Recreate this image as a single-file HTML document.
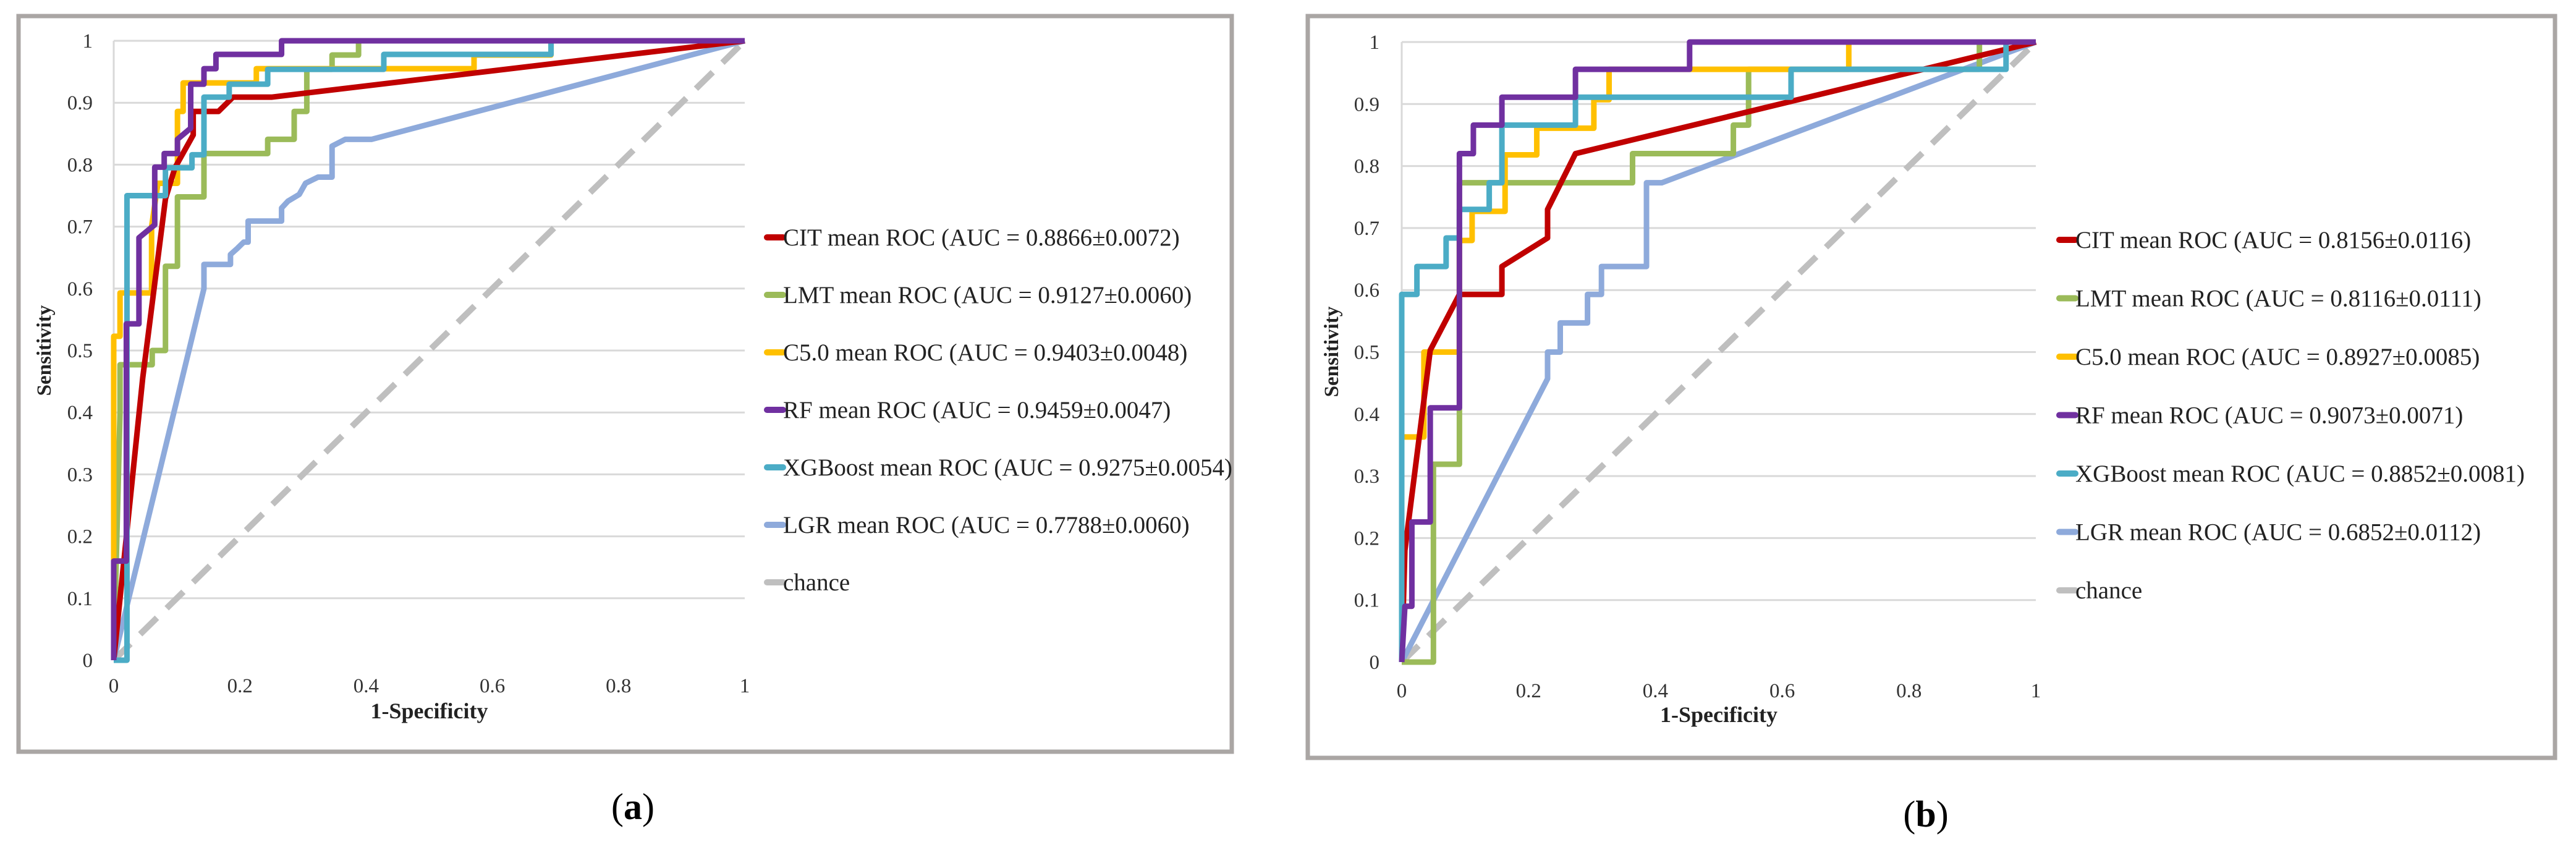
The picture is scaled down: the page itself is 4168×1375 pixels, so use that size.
<!DOCTYPE html>
<html><head><meta charset="utf-8"><style>
html,body{margin:0;padding:0;background:#fff;}
svg{display:block;font-family:"Liberation Serif",serif;}
</style></head><body>
<svg id="fig" width="4168" height="1375" viewBox="0 0 4168 1375" xmlns="http://www.w3.org/2000/svg">
<rect x="0" y="0" width="4168" height="1375" fill="#fff"/>
<rect x="30" y="26" width="1963" height="1190" fill="none" stroke="#aaa6a4" stroke-width="7"/>
<rect x="2116" y="26" width="2018" height="1200" fill="none" stroke="#aaa6a4" stroke-width="7"/>
<text x="1024" y="1325" font-size="60" text-anchor="middle">(<tspan font-weight="bold">a</tspan>)</text>
<text x="3116" y="1337" font-size="60" text-anchor="middle">(<tspan font-weight="bold">b</tspan>)</text>
<g id="pa"></g>
<g id="pb"></g>
</svg>
<script>
const seriesNames = ["CIT","LMT","C5.0","RF","XGBoost","LGR"];
const seriesColors = ["#c00000","#9bbb59","#ffc000","#7030a0","#4bacc6","#8eaadb"];
const yTicks = ["0","0.1","0.2","0.3","0.4","0.5","0.6","0.7","0.8","0.9","1"];
const xTicks = ["0","0.2","0.4","0.6","0.8","1"];
const aucA = ["0.8866±0.0072","0.9127±0.0060","0.9403±0.0048","0.9459±0.0047","0.9275±0.0054","0.7788±0.0060"];
const aucB = ["0.8156±0.0116","0.8116±0.0111","0.8927±0.0085","0.9073±0.0071","0.8852±0.0081","0.6852±0.0112"];

// Panel (a) series: [fpr, tpr] points
const aCIT = [[0,0],[0.01,0.1],[0.046,0.456],[0.082,0.745],[0.097,0.795],[0.126,0.848],[0.126,0.886],[0.166,0.886],[0.189,0.909],[0.25,0.909],[1,1]];
const aLMT = [[0,0],[0.01,0.4],[0.01,0.477],[0.061,0.477],[0.061,0.5],[0.082,0.5],[0.082,0.636],[0.101,0.636],[0.101,0.748],[0.143,0.748],[0.143,0.818],[0.244,0.818],[0.244,0.841],[0.286,0.841],[0.286,0.886],[0.306,0.886],[0.306,0.954],[0.346,0.954],[0.346,0.977],[0.388,0.977],[0.388,1],[1,1]];
const aC50 = [[0,0],[0,0.523],[0.01,0.523],[0.01,0.593],[0.06,0.593],[0.06,0.70],[0.07,0.77],[0.101,0.77],[0.101,0.886],[0.11,0.886],[0.11,0.932],[0.18,0.932],[0.226,0.932],[0.226,0.955],[0.571,0.955],[0.571,0.977],[0.693,0.977],[0.693,1],[1,1]];
const aRF = [[0,0],[0,0.16],[0.02,0.16],[0.02,0.543],[0.04,0.543],[0.04,0.682],[0.065,0.703],[0.065,0.796],[0.08,0.796],[0.08,0.818],[0.101,0.818],[0.101,0.841],[0.122,0.859],[0.122,0.93],[0.143,0.93],[0.143,0.955],[0.162,0.955],[0.162,0.978],[0.266,0.978],[0.266,1],[1,1]];
const aXGB = [[0,0],[0.021,0],[0.021,0.75],[0.082,0.75],[0.082,0.795],[0.124,0.795],[0.124,0.816],[0.143,0.816],[0.143,0.909],[0.183,0.909],[0.183,0.93],[0.244,0.93],[0.244,0.954],[0.428,0.954],[0.428,0.978],[0.693,0.978],[0.693,1],[1,1]];
const aLGR = [[0,0],[0.143,0.6],[0.143,0.639],[0.185,0.639],[0.185,0.655],[0.195,0.664],[0.206,0.675],[0.213,0.675],[0.213,0.709],[0.266,0.709],[0.266,0.73],[0.276,0.741],[0.294,0.752],[0.304,0.77],[0.324,0.78],[0.346,0.78],[0.346,0.83],[0.367,0.841],[0.409,0.841],[1,1]];

// Panel (b) series
const bCIT = [[0,0],[0.005,0.18],[0.045,0.503],[0.091,0.593],[0.158,0.593],[0.158,0.638],[0.23,0.684],[0.23,0.73],[0.274,0.82],[1,1]];
const bLMT = [[0,0],[0.05,0],[0.05,0.319],[0.091,0.319],[0.091,0.41],[0.091,0.773],[0.113,0.773],[0.364,0.773],[0.364,0.82],[0.523,0.82],[0.523,0.866],[0.547,0.866],[0.547,0.956],[0.911,0.956],[0.911,1],[1,1]];
const bC50 = [[0,0],[0,0.363],[0.035,0.363],[0.035,0.5],[0.091,0.5],[0.091,0.68],[0.111,0.68],[0.111,0.727],[0.163,0.727],[0.163,0.818],[0.213,0.818],[0.213,0.861],[0.303,0.861],[0.303,0.907],[0.327,0.907],[0.327,0.956],[0.705,0.956],[0.705,1],[1,1]];
const bRF = [[0,0],[0.005,0.09],[0.016,0.09],[0.016,0.226],[0.045,0.226],[0.045,0.41],[0.091,0.41],[0.091,0.82],[0.113,0.82],[0.113,0.866],[0.158,0.866],[0.158,0.911],[0.274,0.911],[0.274,0.956],[0.454,0.956],[0.454,1],[1,1]];
const bXGB = [[0,0],[0,0.593],[0.024,0.593],[0.024,0.638],[0.07,0.638],[0.07,0.684],[0.091,0.684],[0.091,0.73],[0.138,0.73],[0.138,0.773],[0.158,0.773],[0.158,0.866],[0.274,0.866],[0.274,0.911],[0.614,0.911],[0.614,0.956],[0.953,0.956],[0.953,1],[1,1]];
const bLGR = [[0,0],[0.23,0.457],[0.23,0.5],[0.25,0.5],[0.25,0.547],[0.293,0.547],[0.293,0.593],[0.315,0.593],[0.315,0.638],[0.386,0.638],[0.386,0.773],[0.41,0.773],[1,1]];

const chance = [[0,0],[1,1]];

const NS = "http://www.w3.org/2000/svg";
function mk(parent, tag, attrs){ const e=document.createElementNS(NS,tag); for(const k in attrs) e.setAttribute(k,attrs[k]); parent.appendChild(e); return e; }

function drawPanel(g, cfg, series, auc, tag){
  const sx = v => cfg.x0 + v*(cfg.x1-cfg.x0);
  const sy = v => cfg.y0 - v*(cfg.y0-cfg.y1);
  // gridlines
  yTicks.forEach((t,i)=>{
    const v = parseFloat(t);
    if(v>0){
      const l = mk(g,"line",{x1:sx(0),x2:sx(1),y1:sy(v),y2:sy(v),stroke:"#d9d9d9","stroke-width":3});
      
      
    }
    const tx = mk(g,"text",{x:cfg.yLabRight,y:sy(v)+11,"font-size":33,"text-anchor":"end",fill:"#333"});
    tx.textContent = t;
    
    
  });
  const ax = mk(g,"line",{x1:sx(0),x2:sx(0),y1:sy(0),y2:sy(1),stroke:"#d9d9d9","stroke-width":3});
  
  
  xTicks.forEach(t=>{
    const tx = mk(g,"text",{x:sx(parseFloat(t)),y:cfg.xLabY,"font-size":33,"text-anchor":"middle",fill:"#333"});
    tx.textContent = t;
    
    
  });
  const xt = mk(g,"text",{x:(sx(0)+sx(1))/2,y:cfg.xTitleY,"font-size":36,"font-weight":"bold","text-anchor":"middle",fill:"#222"});
  xt.textContent = "1-Specificity";
  
  
  const yt = mk(g,"text",{x:0,y:0,"font-size":33,"font-weight":"bold","text-anchor":"middle",fill:"#222",transform:"translate("+cfg.yTitleX+","+cfg.yTitleY+") rotate(-90)"});
  yt.textContent = "Sensitivity";
  
  
  // chance
  const ch = mk(g,"polyline",{points:chance.map(p=>sx(p[0])+","+sy(p[1])).join(" "),fill:"none",stroke:"#bfbfbf","stroke-width":10,"stroke-dasharray":"38,22"});
  
  
  // series (draw LGR, LMT, C5.0, CIT, XGB, RF order roughly)
  const order=[5,1,2,0,4,3];
  order.forEach(i=>{
    const pl = mk(g,"polyline",{points:series[i].map(p=>sx(p[0])+","+sy(p[1])).join(" "),fill:"none",stroke:seriesColors[i],"stroke-width":9,"stroke-linejoin":"round"});
    
    
  });
  // legend
  const labels = seriesNames.map((n,i)=>n+" mean ROC (AUC = "+auc[i]+")").concat(["chance"]);
  const cols = seriesColors.concat(["#bfbfbf"]);
  labels.forEach((lab,i)=>{
    const y = cfg.legY + i*cfg.legStep;
    const m = mk(g,"line",{x1:cfg.legX,x2:cfg.legX+26,y1:y,y2:y,stroke:cols[i],"stroke-width":10,"stroke-linecap":"round"});
    
    
    const t = mk(g,"text",{x:cfg.legX+26,y:y+13,"font-size":39,fill:"#222"});
    t.textContent = lab;
    
    
  });
}
drawPanel(document.getElementById("pa"),
  {x0:184,x1:1205,y0:1068,y1:66,yLabRight:150,xLabY:1120,xTitleY:1162,yTitleX:82,yTitleY:567,legX:1241,legY:384,legStep:93},
  [aCIT,aLMT,aC50,aRF,aXGB,aLGR], aucA, "a");
drawPanel(document.getElementById("pb"),
  {x0:2268,x1:3294,y0:1071,y1:68,yLabRight:2232,xLabY:1128,xTitleY:1168,yTitleX:2165,yTitleY:569,legX:3332,legY:388,legStep:94.5},
  [bCIT,bLMT,bC50,bRF,bXGB,bLGR], aucB, "b");
</script>
</body></html>
